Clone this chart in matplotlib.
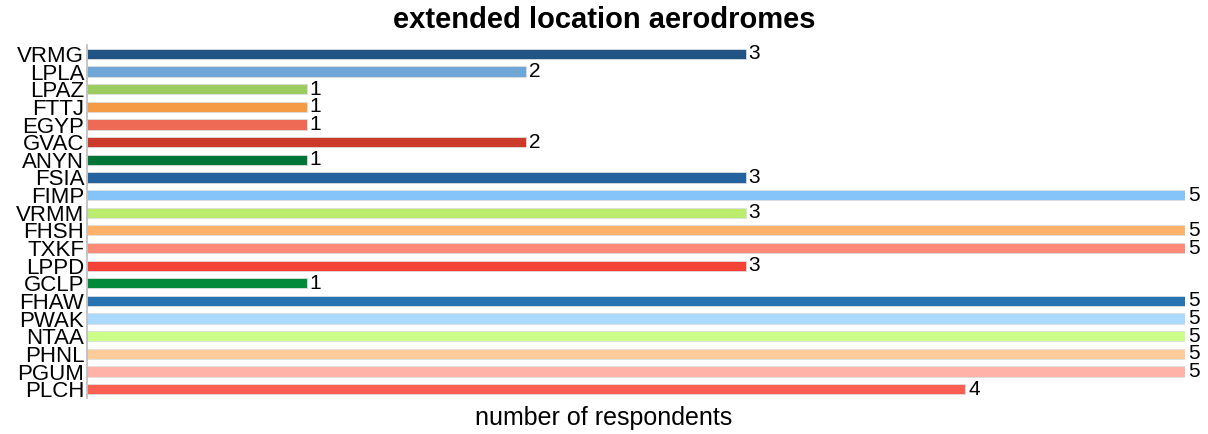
import matplotlib
matplotlib.use("Agg")
import matplotlib.pyplot as plt

plt.rcParams['font.family'] = ['Liberation Sans', 'DejaVu Sans']

airports = ["VRMG", "LPLA", "LPAZ", "FTTJ", "EGYP", "GVAC", "ANYN", "FSIA", "FIMP", "VRMM",
            "FHSH", "TXKF", "LPPD", "GCLP", "FHAW", "PWAK", "NTAA", "PHNL", "PGUM", "PLCH"]
respondents = [3, 2, 1, 1, 1, 2, 1, 3, 5, 3, 5, 5, 3, 1, 5, 5, 5, 5, 5, 4]
colors = ["#215483", "#6fa8d6", "#9ccc5f", "#f59a45", "#ee6a55", "#cc3a2a", "#007535",
          "#23629e", "#84c4f9", "#bced6e", "#ffb268", "#ff8a78", "#f54236", "#008a3a",
          "#2874b2", "#acdafd", "#ccff88", "#ffcc99", "#ffb3a8", "#ff5f50"]

fig = plt.figure(figsize=(12.08, 4.34), dpi=100)
ax = fig.add_axes([0.072, 0.083, 0.909, 0.813])

ypos = list(range(len(airports)))
ax.barh(ypos, respondents, height=0.58, color=colors, edgecolor="#dddddd", linewidth=0.6)
for y, v in zip(ypos, respondents):
    ax.annotate(str(v), (v, y), xytext=(2, 0), textcoords="offset points",
                va="center", ha="left", fontsize=15)

ax.set_xlim(0, 5)
ax.set_ylim(len(airports) - 0.5, -0.5)
ax.set_yticks(ypos)
ax.set_yticklabels(airports, fontsize=16)
ax.tick_params(axis="y", length=0, pad=2)
ax.set_xticks([])
for s in ["top", "right", "bottom"]:
    ax.spines[s].set_visible(False)
ax.spines["left"].set_color("#bbbbbb")
ax.spines["left"].set_linewidth(1.2)

# title and axis label are centred on the whole figure, not the axes
fig.text(0.5, 0.953, "extended location aerodromes", fontsize=21, fontweight="bold",
         ha="center", va="center")
fig.text(0.5, 0.036, "number of respondents", fontsize=18, ha="center", va="center")

fig.savefig("out.png", dpi=100)
